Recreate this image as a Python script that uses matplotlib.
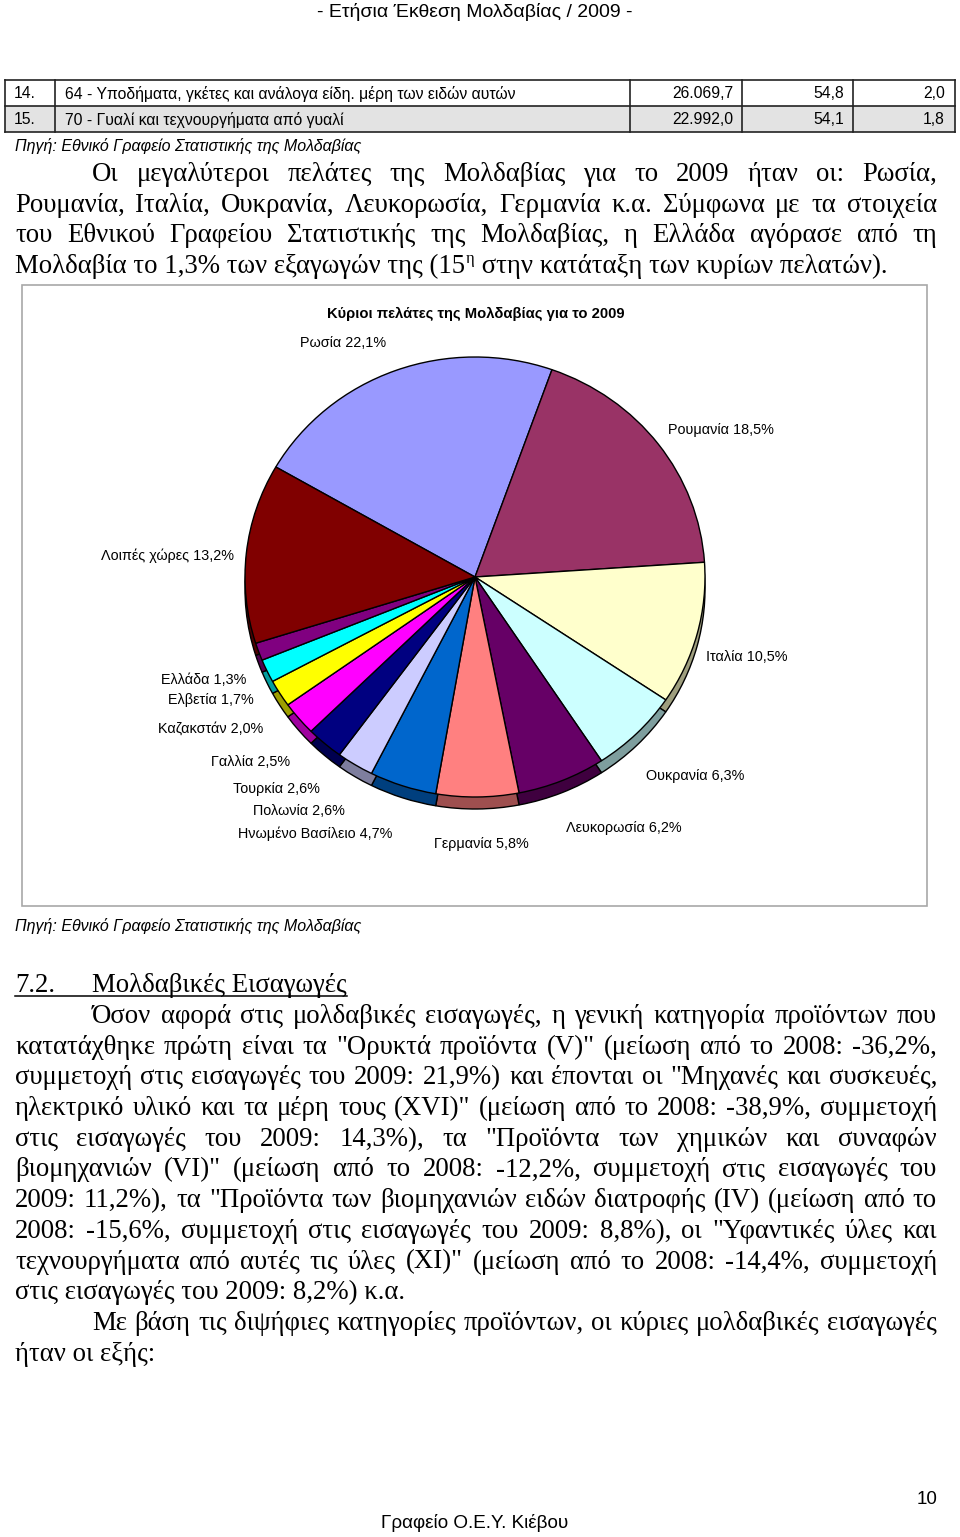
import matplotlib
matplotlib.use('Agg')
import matplotlib.pyplot as plt
from matplotlib import font_manager
from matplotlib.patches import Rectangle
from matplotlib.colors import to_rgb

# ---------------- data ----------------
countries = ['Ρωσία', 'Ρουμανία', 'Ιταλία', 'Ουκρανία', 'Λευκορωσία', 'Γερμανία',
             'Ηνωμένο Βασίλειο', 'Πολωνία', 'Τουρκία', 'Γαλλία', 'Καζακστάν',
             'Ελβετία', 'Ελλάδα', 'Λοιπές χώρες']
shares = [22.1, 18.5, 10.5, 6.3, 6.2, 5.8, 4.7, 2.6, 2.6, 2.5, 2.0, 1.7, 1.3, 13.2]

row_no = ['14.', '15.']
row_desc = ['64 - Υποδήματα, γκέτες και ανάλογα είδη. μέρη των ειδών αυτών',
            '70 - Γυαλί και τεχνουργήματα από γυαλί']
row_value = ['26.069,7', '22.992,0']
row_change = ['54,8', '54,1']
row_share = ['2,0', '1,8']

chart_title = 'Κύριοι πελάτες της Μολδαβίας για το 2009'
source_text = 'Πηγή: Εθνικό Γραφείο Στατιστικής της Μολδαβίας'
header_text = '- Ετήσια Έκθεση Μολδαβίας / 2009 -'
footer_text = 'Γραφείο Ο.Ε.Υ. Κιέβου'
page_no = '10'

para1 = ['Οι μεγαλύτεροι πελάτες της Μολδαβίας για το 2009 ήταν οι: Ρωσία,',
         'Ρουμανία, Ιταλία, Ουκρανία, Λευκορωσία, Γερμανία κ.α. Σύμφωνα με τα στοιχεία',
         'του Εθνικού Γραφείου Στατιστικής της Μολδαβίας, η Ελλάδα αγόρασε από τη']
para1_last = ['Μολδαβία το 1,3% των εξαγωγών της (15', 'η',
              ' στην κατάταξη των κυρίων πελατών).']
heading_no = '7.2.'
heading_txt = 'Μολδαβικές Εισαγωγές'
para2 = ['Όσον αφορά στις μολδαβικές εισαγωγές, η γενική κατηγορία προϊόντων που',
         'κατατάχθηκε πρώτη είναι τα "Ορυκτά προϊόντα (V)" (μείωση από το 2008: -36,2%,',
         'συμμετοχή στις εισαγωγές του 2009: 21,9%) και έπονται οι "Μηχανές και συσκευές,',
         'ηλεκτρικό υλικό και τα μέρη τους (XVI)" (μείωση από το 2008: -38,9%, συμμετοχή',
         'στις εισαγωγές του 2009: 14,3%), τα "Προϊόντα των χημικών και συναφών',
         'βιομηχανιών (VI)" (μείωση από το 2008: -12,2%, συμμετοχή στις εισαγωγές του',
         '2009: 11,2%), τα "Προϊόντα των βιομηχανιών ειδών διατροφής (IV) (μείωση από το',
         '2008: -15,6%, συμμετοχή στις εισαγωγές του 2009: 8,8%), οι "Υφαντικές ύλες και',
         'τεχνουργήματα από αυτές τις ύλες (XI)" (μείωση από το 2008: -14,4%, συμμετοχή',
         'στις εισαγωγές του 2009: 8,2%) κ.α.',
         'Με βάση τις διψήφιες κατηγορίες προϊόντων, οι κύριες μολδαβικές εισαγωγές',
         'ήταν οι εξής:']

# ---------------- style / layout ----------------
slice_colors = ['#9999FF', '#993366', '#FFFFCC', '#CCFFFF', '#660066', '#FF8080',
                '#0066CC', '#CCCCFF', '#000080', '#FF00FF', '#FFFF00', '#00FFFF',
                '#800080', '#800000']
label_pos = [(300, 343), (668, 430), (706, 657), (646, 776), (566, 828), (434, 844),
             (238, 834), (253, 811), (233, 789), (211, 762), (158, 729), (168, 700),
             (161, 680), (101, 556)]

names = {f.name for f in font_manager.fontManager.ttflist}
NARROW = 'Liberation Sans Narrow' if 'Liberation Sans Narrow' in names else 'Liberation Sans'
SANS = 'Liberation Sans'
SERIF = 'Liberation Serif'

W, H = 960, 1537
fig = plt.figure(figsize=(W / 100, H / 100), dpi=100)
fig.patch.set_facecolor('white')
ax = fig.add_axes([0, 0, 1, 1])
ax.set_xlim(0, W)
ax.set_ylim(H, 0)
ax.axis('off')

# header
ax.text(475, 12, header_text, family=NARROW, fontsize=14, ha='center', va='center')

# table
col_x = [5, 55, 630, 742, 853, 955]
row_y = [80, 106, 132]
ax.add_patch(Rectangle((col_x[0], row_y[1]), col_x[-1] - col_x[0], row_y[2] - row_y[1],
                       facecolor='#E3E3E3', edgecolor='none'))
for yy in row_y:
    ax.plot([col_x[0], col_x[-1]], [yy, yy], color='#222222', lw=1.2)
for xx in col_x:
    ax.plot([xx, xx], [row_y[0], row_y[-1]], color='#222222', lw=1.2)
for i in range(2):
    yc = (row_y[i] + row_y[i + 1]) / 2 + 1
    kw = dict(family=NARROW, fontsize=11.3, va='center')
    ax.text(col_x[0] + 9, yc, row_no[i], ha='left', **kw)
    ax.text(col_x[1] + 10, yc, row_desc[i], ha='left', **kw)
    ax.text(col_x[3] - 9, yc, row_value[i], ha='right', **kw)
    ax.text(col_x[4] - 9, yc, row_change[i], ha='right', **kw)
    ax.text(col_x[5] - 10, yc, row_share[i], ha='right', **kw)

ax.text(15, 146, source_text, family=NARROW, fontsize=11.5, style='italic', va='center')

# ---------- body text with justification ----------
BODY = dict(family=SERIF, fontsize=19.3, va='baseline', color='black')
renderer = fig.canvas.get_renderer()


def text_width(s, **kw):
    t = ax.text(0, 0, s, **kw)
    w = t.get_window_extent(renderer=renderer).width
    t.remove()
    return w


def justified(line, x0, x1, yb, justify=True):
    words = line.split(' ')
    if not justify or len(words) == 1:
        ax.text(x0, yb, line, **BODY)
        return
    widths = [text_width(w, **BODY) for w in words]
    gap = (x1 - x0 - sum(widths)) / (len(words) - 1)
    x = x0
    for w, wd in zip(words, widths):
        ax.text(x, yb, w, **BODY)
        x += wd + gap


LEFT, RIGHT, INDENT = 15, 937, 92
LS = 30.7
base1 = 181
for i, line in enumerate(para1):
    justified(line, INDENT if i == 0 else LEFT, RIGHT, base1 + i * LS)
yb = base1 + 3 * LS
x = LEFT
w0 = text_width(para1_last[0], **BODY)
ax.text(x, yb, para1_last[0], **BODY)
x += w0
SUP = dict(family=SERIF, fontsize=12, va='baseline')
ax.text(x + 1, yb - 10, para1_last[1], **SUP)
x += text_width(para1_last[1], **SUP) + 1
ax.text(x, yb, para1_last[2], **BODY)

# chart frame
ax.add_patch(Rectangle((22, 285), 905, 621, facecolor='none', edgecolor='#A8A8A8', lw=1.2))
ax.text(476, 314, chart_title, family=NARROW, fontsize=10.6, weight='bold',
        ha='center', va='center')
for name, val, (lx, ly) in zip(countries, shares, label_pos):
    lab = f'{name} {val:.1f}%'.replace('.', ',')
    ax.text(lx, ly, lab, family=SANS, fontsize=10.4, ha='left', va='center')

ax.text(15, 926, source_text, family=NARROW, fontsize=11.5, style='italic', va='center')

# heading
hb = 992
ax.text(LEFT, hb, heading_no, **BODY)
ax.text(INDENT, hb, heading_txt, **BODY)
hw = text_width(heading_txt, **BODY)
ax.plot([LEFT, INDENT + hw], [hb + 4, hb + 4], color='black', lw=1.1)

base2 = 1023
for i, line in enumerate(para2):
    indent = i in (0, 10)
    just = i not in (9, 11)
    justified(line, INDENT if indent else LEFT, RIGHT, base2 + i * LS, justify=just)

# footer
ax.text(475, 1523, footer_text, family=SANS, fontsize=13.6, ha='center', va='center')
ax.text(937, 1500, page_no, family=SANS, fontsize=13.6, ha='right', va='center')

# ---------------- pie ----------------
cx, cy = 475, 577
rx, ry = 230, 220
depth = 12
box = 260
pax = fig.add_axes([(cx - box) / W, 1 - (cy + box) / H, 2 * box / W, 2 * box / H])
side_colors = [tuple(c * 0.62 for c in to_rgb(col)) for col in slice_colors]
wedge_kw = dict(edgecolor='black', linewidth=1.0)
pax.pie(shares, colors=side_colors, startangle=150, counterclock=False,
        center=(0, -depth / ry), radius=1, wedgeprops=wedge_kw)
pax.pie(shares, colors=slice_colors, startangle=150, counterclock=False,
        center=(0, 0), radius=1, wedgeprops=wedge_kw)
pax.set_aspect('auto')
pax.set_xlim(-box / rx, box / rx)
pax.set_ylim(-box / ry, box / ry)
pax.axis('off')

fig.savefig('out.png', dpi=100, facecolor='white')
